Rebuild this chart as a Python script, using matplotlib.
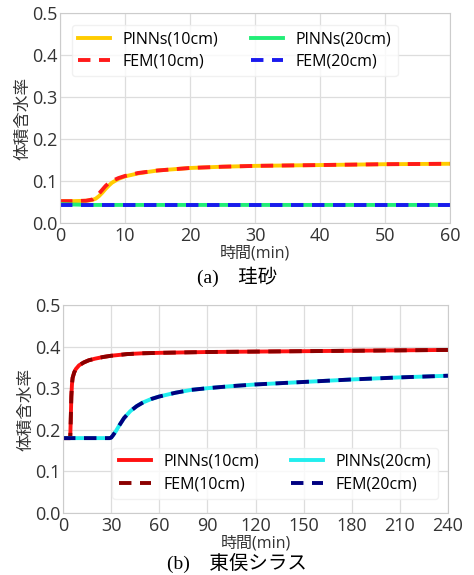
import numpy as np
import matplotlib.pyplot as plt

plt.rcParams['font.family'] = ['Open Sans', 'Noto Sans CJK JP', 'DejaVu Sans']

# (a) 珪砂: 時間(min) と体積含水率
t_a = [0, 2, 4, 5, 5.5, 6, 6.5, 7, 7.5, 8, 9, 10, 12, 15, 20, 25, 30, 40, 50, 60]
pinn10_a = [0.052, 0.052, 0.053, 0.055, 0.058, 0.064, 0.072, 0.081, 0.089, 0.096, 0.105, 0.111,
            0.118, 0.125, 0.131, 0.134, 0.136, 0.138, 0.140, 0.141]
fem10_a = [0.052, 0.052, 0.053, 0.056, 0.062, 0.070, 0.079, 0.088, 0.095, 0.100, 0.107, 0.112,
           0.119, 0.125, 0.131, 0.134, 0.136, 0.138, 0.140, 0.141]
t_a20 = [0, 2, 5, 10, 20, 30, 40, 50, 60]
pinn20_a = [0.045, 0.044, 0.043, 0.043, 0.043, 0.043, 0.043, 0.043, 0.043]
fem20_a = [0.042, 0.042, 0.042, 0.042, 0.042, 0.042, 0.042, 0.042, 0.042]

# (b) 東俣シラス
t_b10 = [0, 3, 4.5, 4.8, 5.2, 5.6, 6, 7, 8, 10, 13, 16, 20, 25, 30, 40, 50, 60, 90, 120, 150, 180, 210, 240]
pinn10_b = [0.180, 0.180, 0.180, 0.220, 0.280, 0.310, 0.325, 0.338, 0.346, 0.355, 0.362, 0.367,
            0.371, 0.375, 0.378, 0.382, 0.384, 0.385, 0.387, 0.388, 0.389, 0.390, 0.391, 0.392]
fem10_b = pinn10_b
t_b20 = [0, 10, 20, 29, 30, 31, 33, 35, 38, 42, 46, 50, 55, 60, 70, 80, 90, 105, 120, 150, 180, 210, 240]
pinn20_b = [0.180, 0.180, 0.180, 0.180, 0.181, 0.186, 0.197, 0.210, 0.228, 0.245, 0.257, 0.266,
            0.274, 0.280, 0.289, 0.296, 0.300, 0.305, 0.309, 0.315, 0.321, 0.326, 0.330]
fem20_b = pinn20_b

fig = plt.figure(figsize=(4.74, 5.75), dpi=100)
ax1 = fig.add_axes([60 / 474, 1 - 223 / 575, 390 / 474, 210 / 575])
ax2 = fig.add_axes([63 / 474, 1 - 513 / 575, 385 / 474, 208 / 575])

dash = (0, (3.2, 2.2))


def style(ax, xmax, step):
    ax.set_xlim(0, xmax)
    ax.set_ylim(0, 0.5)
    ax.set_xticks(np.arange(0, xmax + 1, step))
    ax.set_yticks(np.arange(0, 0.51, 0.1))
    ax.grid(True, color='#dddddd', lw=0.9)
    ax.set_axisbelow(True)
    for s in ax.spines.values():
        s.set_color('#cccccc')
    ax.tick_params(colors='#333333', labelsize=13, length=0)
    ax.tick_params(axis='x', pad=3)
    ax.tick_params(axis='y', pad=2)
    ax.set_xlabel('時間(min)', fontsize=11.5, color='#333333', labelpad=0)
    ax.set_ylabel('体積含水率', fontsize=12, color='#333333', labelpad=0)


leg_kw = dict(ncol=2, fontsize=11.5, frameon=True, edgecolor='#eeeeee', handlelength=2.0,
              handletextpad=0.8, columnspacing=2.0, labelspacing=0.4, borderpad=0.4)

ax1.plot(t_a, pinn10_a, color='#ffcc00', lw=2.8, label='PINNs(10cm)')
ax1.plot(t_a, fem10_a, color='#ff1a1a', lw=2.8, ls=dash, label='FEM(10cm)')
ax1.plot(t_a20, pinn20_a, color='#22ee77', lw=2.8, label='PINNs(20cm)')
ax1.plot(t_a20, fem20_a, color='#1a1aee', lw=2.8, ls=dash, label='FEM(20cm)')
style(ax1, 60, 10)
ax1.legend(loc='upper left', bbox_to_anchor=(0.01, 0.98), **leg_kw)

ax2.plot(t_b10, pinn10_b, color='#ff1111', lw=2.8, label='PINNs(10cm)')
ax2.plot(t_b10, fem10_b, color='#8b0000', lw=2.8, ls=dash, label='FEM(10cm)')
ax2.plot(t_b20, pinn20_b, color='#22eeee', lw=2.8, label='PINNs(20cm)')
ax2.plot(t_b20, fem20_b, color='#000080', lw=2.8, ls=dash, label='FEM(20cm)')
style(ax2, 240, 30)
ax2.legend(loc='lower right', bbox_to_anchor=(0.995, 0.03), **leg_kw)

fig.text(0.5, 1 - 277 / 575, '(a)\u3000珪砂', ha='center', va='center', fontsize=14,
         family=['Liberation Serif', 'Noto Sans CJK JP'])
fig.text(0.5, 1 - 563 / 575, '(b)\u3000東俣シラス', ha='center', va='center', fontsize=14,
         family=['Liberation Serif', 'Noto Sans CJK JP'])

fig.savefig('out.png', dpi=100)
